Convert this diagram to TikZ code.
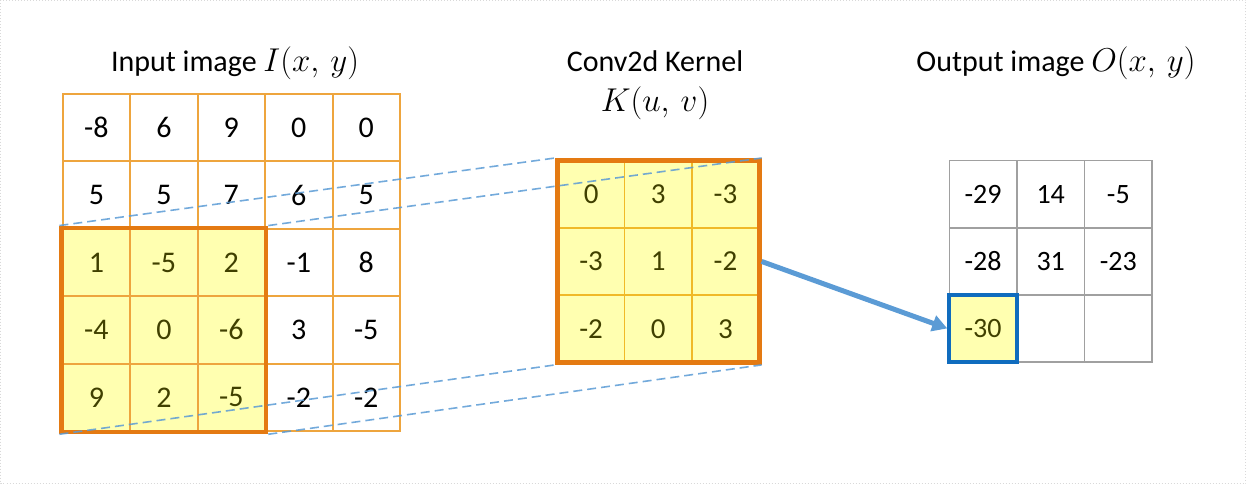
\documentclass[tikz,border=0pt]{standalone}
\usepackage{fix-cm}
\usepackage{fontspec}
\setmainfont{Carlito}
\usetikzlibrary{arrows.meta,fit}
\definecolor{gridor}{RGB}{238,165,62}
\definecolor{thickor}{RGB}{228,122,18}
\definecolor{hlyel}{RGB}{255,255,176}
\definecolor{olivetext}{RGB}{64,64,0}
\definecolor{lblue}{RGB}{91,155,213}
\definecolor{dblue}{RGB}{16,108,190}
\definecolor{ggray}{RGB}{160,160,160}
\definecolor{kline}{RGB}{240,185,40}
\newcommand{\bigmath}[1]{{\fontsize{33}{36}\selectfont$#1$}}
\begin{document}
\begin{tikzpicture}[x=1pt,y=-1pt,
  numfont/.style={font=\fontsize{30}{34}\selectfont},
  titlefont/.style={font=\fontsize{30}{34}\selectfont},
  incell/.style={numfont,draw=gridor,line width=2pt,minimum width=67.45pt,minimum height=67.4pt,inner sep=0pt,text=black},
  hlcell/.style={fill=hlyel,text=olivetext},
  kcell/.style={font=\fontsize{29}{33}\selectfont,draw=kline,line width=1.5pt,fill=hlyel,text=olivetext,minimum width=67.2pt,minimum height=67.3pt,inner sep=0pt},
  ocell/.style={font=\fontsize{28}{32}\selectfont,draw=ggray,line width=1.5pt,minimum width=67.6pt,minimum height=67.1pt,inner sep=0pt,text=black},
  thickbox/.style={draw=thickor,line width=4.5pt,inner sep=0pt},
  conn/.style={draw=lblue,dashed,dash pattern=on 9pt off 5pt,line width=1.6pt,opacity=0.85},
  bigarrow/.style={draw=lblue,line width=5pt,-{Triangle[length=15pt,width=16pt]}},
  title/.style={titlefont,anchor=base,inner sep=0pt}]
\useasboundingbox (0,0) rectangle (1246,484);
\draw[gray!30,dotted,line width=1pt] (0.5,0.5) rectangle (1245.5,483.5);

% titles
\node[title] (tin) at (235,72) {Input image \bigmath{I(x,\,y)}};
\node[title] (tk1) at (655,72) {Conv2d Kernel};
\node[title] (tk2) at (655,112) {\bigmath{K(u,\,v)}};
\node[title] (tout) at (1056,72) {Output image \bigmath{O(x,\,y)}};

% input grid
\foreach \row [count=\r] in {{-8,6,9,0,0},{5,5,7,6,5},{1,-5,2,-1,8},{-4,0,-6,3,-5},{9,2,-5,-2,-2}}{
  \foreach \v [count=\c] in \row {
    \ifnum\r>2\relax\ifnum\c<4\relax\def\st{hlcell}\else\def\st{}\fi\else\def\st{}\fi
    \node[incell,\st] (in\r\c) at ({62.7+67.45*(\c-0.5)},{94+67.4*(\r-0.5)}) {\v};
  }
}
\node[thickbox,fit=(in31)(in53)] (hl) {};

% kernel
\foreach \row [count=\r] in {{0,3,-3},{-3,1,-2},{-2,0,3}}{
  \foreach \v [count=\c] in \row {
    \node[kcell] (k\r\c) at ({557.5+67.2*(\c-0.5)},{160.5+67.3*(\r-0.5)}) {\v};
  }
}
\node[draw=thickor,line width=5pt,inner sep=0pt,minimum width=201.6pt,minimum height=201.9pt] (kern) at (k22) {};

% dashed projection lines
\draw[conn] (hl.north west) -- (kern.north west);
\draw[conn] (hl.north east) -- (kern.north east);
\draw[conn] (hl.south west) -- (kern.south west);
\draw[conn] (hl.south east) -- (kern.south east);

% output grid
\foreach \row [count=\r] in {{-29,14,-5},{-28,31,-23},{-30,{},{}}}{
  \foreach \v [count=\c] in \row {
    \node[ocell] (o\r\c) at ({949.3+67.6*(\c-0.5)},{160.7+67.1*(\r-0.5)}) {\v};
  }
}
\node[ocell,fill=hlyel,text=olivetext,draw=dblue,line width=4pt] (ob) at (o31) {-30};

% arrow
\draw[bigarrow] (kern.east) -- (ob.west);
\end{tikzpicture}
\end{document}
